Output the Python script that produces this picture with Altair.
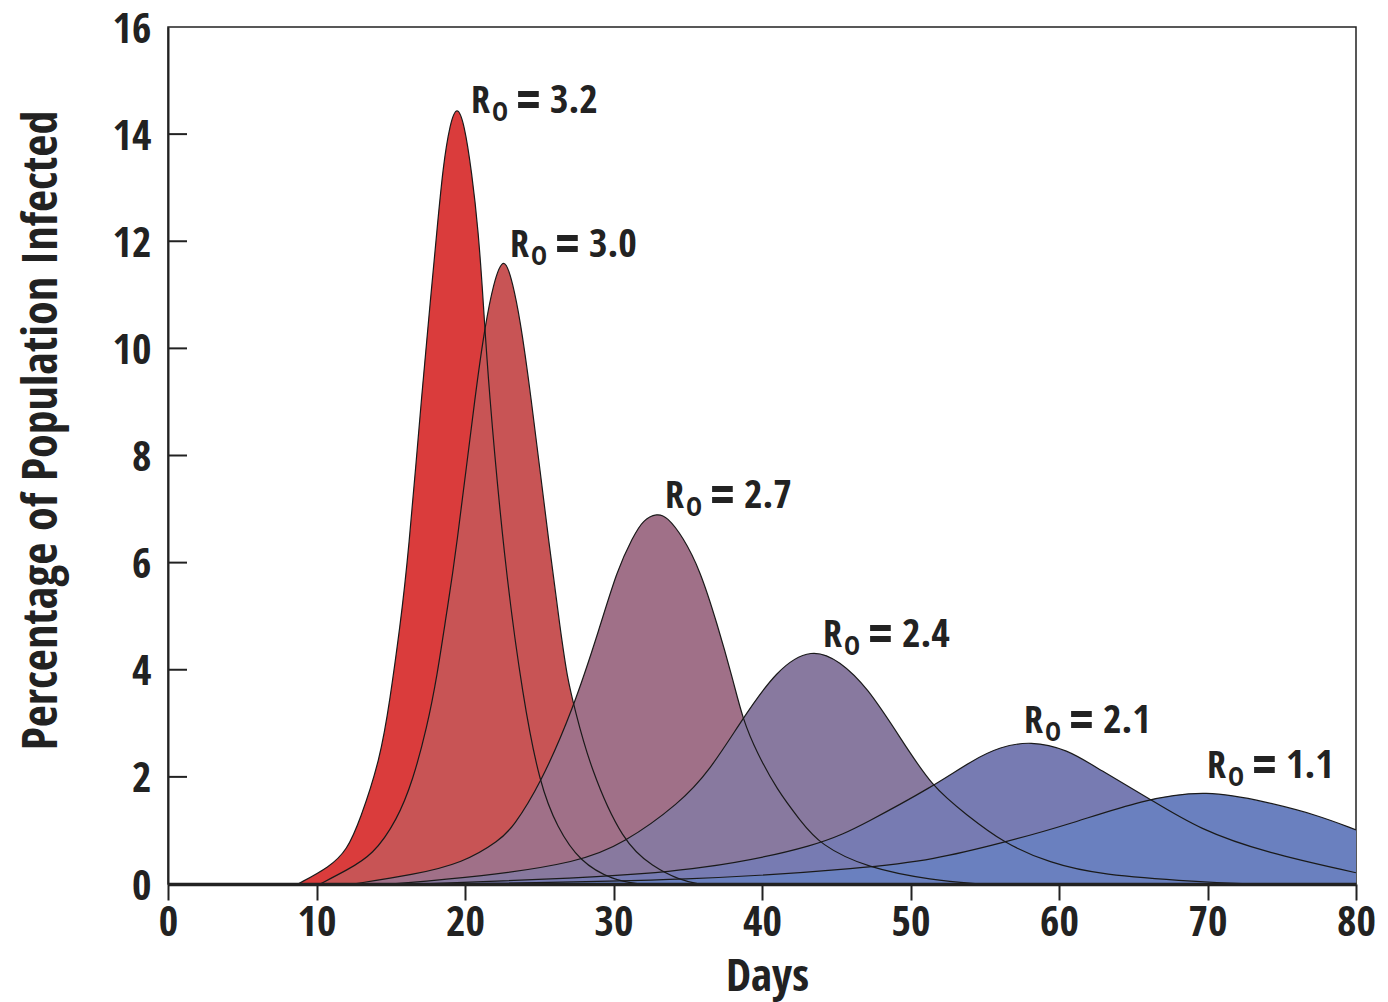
import altair as alt
import pandas as pd

# ---- data ----
series_names = ["3.2", "3.0", "2.7", "2.4", "2.1", "1.1"]
series_colors = ["#DA3C3C", "#C85455", "#A07088", "#88799F", "#777BB2", "#6A80BF"]

days_32 = [8.75, 10.9, 12.05, 12.93, 14.28, 14.95, 15.62, 16.16, 17.17, 17.64, 18.11, 18.52, 18.99, 19.46,
           19.95, 20.45, 20.9, 21.25, 21.55, 22.63, 23.91, 25.05, 26.2, 27.74, 29.97, 31.8]
vals_32 = [0, 0.32, 0.63, 1.19, 2.32, 3.44, 4.80, 6.05, 9.41, 10.8, 12.2, 13.4, 14.2, 14.55,
           14.2, 13.3, 12.2, 10.8, 9.41, 6.05, 3.44, 1.85, 1.06, 0.41, 0.07, 0]

days_30 = [10.24, 12.05, 13.8, 15.42, 16.5, 17.44, 18.11, 18.79, 19.33, 20.81, 21.35, 21.89, 22.63,
           23.23, 23.7, 24.31, 25.79, 26.4, 26.87, 27.41, 28.42, 30.64, 32.66, 34.48, 35.8]
vals_30 = [0, 0.26, 0.54, 1.19, 1.94, 2.93, 3.86, 5.12, 6.05, 9.41, 10.4, 11.2, 11.78,
           11.2, 10.55, 9.41, 6.05, 4.80, 3.86, 3.25, 2.18, 0.77, 0.32, 0.07, 0]

days_27 = [12.46, 16.5, 19.87, 22.36, 23.23, 25.05, 27.27, 29.09, 30.24, 31.31, 31.99, 32.93, 33.6,
           34.68, 35.83, 36.97, 38.05, 38.72, 39.66, 41.01, 42.56, 43.91, 47.07, 51.5, 54.7]
vals_27 = [0, 0.17, 0.39, 0.82, 1.06, 1.85, 3.25, 4.80, 5.86, 6.48, 6.80, 6.92, 6.86,
           6.48, 5.86, 4.87, 3.81, 3.06, 2.45, 1.76, 1.19, 0.73, 0.30, 0.07, 0]

days_24 = [14.95, 21.01, 27.74, 30.64, 34.48, 36.5, 38.52, 41.01, 43.37, 45.25, 47.07, 49.29,
           51.45, 53.8, 56.23, 59.39, 62.76, 69.49, 72.9]
vals_24 = [0, 0.13, 0.41, 0.75, 1.51, 2.13, 3.01, 4.02, 4.41, 4.16, 3.68, 2.74,
           1.81, 1.29, 0.77, 0.39, 0.17, 0.04, 0]

days_21 = [17.0, 21.0, 29.09, 35.83, 43.91, 47.07, 51.45, 54.21, 56.03, 58.05, 60.54, 62.76,
           65.99, 69.49, 74.01, 80]
vals_21 = [0, 0.04, 0.13, 0.26, 0.71, 1.15, 1.81, 2.32, 2.56, 2.67, 2.52, 2.13,
           1.61, 1.01, 0.58, 0.21]

days_11 = [19.0, 35.83, 47.07, 51.5, 56.23, 60.54, 65.66, 69.97, 74.0, 77.37, 80]
vals_11 = [0, 0.07, 0.30, 0.45, 0.77, 1.10, 1.58, 1.76, 1.53, 1.29, 1.01]

label_days = [20.4, 23.03, 33.47, 44.11, 57.64, 69.97]
label_vals = [14.40, 11.71, 7.02, 4.42, 2.82, 1.98]

x_ticks = [0, 10, 20, 30, 40, 50, 60, 70, 80]
y_ticks = [0, 2, 4, 6, 8, 10, 12, 14, 16]
inner_y_ticks = [2, 4, 6, 8, 10, 12, 14]

FONT = "'Open Sans Condensed', 'Liberation Sans', sans-serif"
INK = "#222222"

all_days = [days_32, days_30, days_27, days_24, days_21, days_11]
all_vals = [vals_32, vals_30, vals_27, vals_24, vals_21, vals_11]

rows = []
for name, ds, vs in zip(series_names, all_days, all_vals):
    for d, v in zip(ds, vs):
        rows.append({"series": name, "day": d, "value": v})
df = pd.DataFrame(rows)

labels_df = pd.DataFrame({"series": series_names, "day": label_days, "value": label_vals})
ticks_df = pd.DataFrame({"v": inner_y_ticks})

x_enc = alt.X("day:Q", scale=alt.Scale(domain=[0, 80], nice=False),
              axis=alt.Axis(values=x_ticks, tickSize=16, tickWidth=2, tickColor=INK,
                            domainWidth=3.5, domainColor=INK, labelPadding=2,
                            labelFont=FONT, labelFontWeight="bold", labelColor=INK,
                            labelFontSize=42, labelFlush=False, labelOverlap=False, grid=False,
                            title="Days", titleFont=FONT, titleFontWeight="bold", titleColor=INK,
                            titleFontSize=45, titleX=599, titleY=106,
                            titleBaseline="alphabetic", zindex=1))
y_enc = alt.Y("value:Q", scale=alt.Scale(domain=[0, 16], nice=False),
              axis=alt.Axis(values=y_ticks, ticks=False, labelPadding=17, labelOffset=2,
                            domainWidth=2, domainColor=INK,
                            labelFont=FONT, labelFontWeight="bold", labelColor=INK,
                            labelFontSize=42, labelFlush=False, labelOverlap=False, grid=False,
                            title="Percentage of Population Infected", titleFont=FONT,
                            titleFontWeight="bold", titleColor=INK, titleFontSize=48,
                            titleAngle=270, titleX=-112, titleY=403,
                            titleBaseline="alphabetic", zindex=1))

base = alt.Chart(df)
layers = []
for name, col in zip(series_names, series_colors):
    layers.append(
        base.transform_filter(alt.datum.series == name)
        .mark_area(color=col, interpolate="basis", clip=True, opacity=1)
        .encode(x=x_enc, y=y_enc)
    )

lines = base.mark_line(color="#1a1a1a", strokeWidth=1.2, interpolate="basis", clip=True).encode(
    x="day:Q", y="value:Q", detail="series:N")

inner_ticks = alt.Chart(ticks_df).mark_rule(color=INK, strokeWidth=2).encode(
    y="v:Q", x=alt.value(0), x2=alt.value(19))

lab = alt.Chart(labels_df)
txt_r = lab.mark_text(align="left", baseline="alphabetic", font=FONT, fontWeight="bold",
                      fontSize=38, color=INK, text="R").encode(x="day:Q", y="value:Q")
txt_o = lab.mark_text(align="left", baseline="alphabetic", font=FONT, fontWeight="bold",
                      fontSize=27, color=INK, text="O", dx=21, dy=8).encode(x="day:Q", y="value:Q")
txt_eq = lab.mark_text(align="left", baseline="alphabetic", font=FONT, fontWeight="bold",
                       fontSize=60, color=INK, text="=", dx=44, dy=7).encode(x="day:Q", y="value:Q")
txt_n = lab.mark_text(align="left", baseline="alphabetic", font=FONT, fontWeight="bold",
                      fontSize=40, color=INK, dx=79).encode(x="day:Q", y="value:Q", text="series:N")

chart = alt.layer(*layers, lines, inner_ticks, txt_r, txt_o, txt_eq, txt_n).properties(
    width=1188, height=857,
    autosize=alt.AutoSizeParams(type="none"),
    padding={"left": 160, "top": 19, "right": 24, "bottom": 118},
    background="white",
).configure_view(stroke=INK, strokeWidth=1.5)

chart.save("out.html", embed_options={"renderer": "svg", "actions": False})
